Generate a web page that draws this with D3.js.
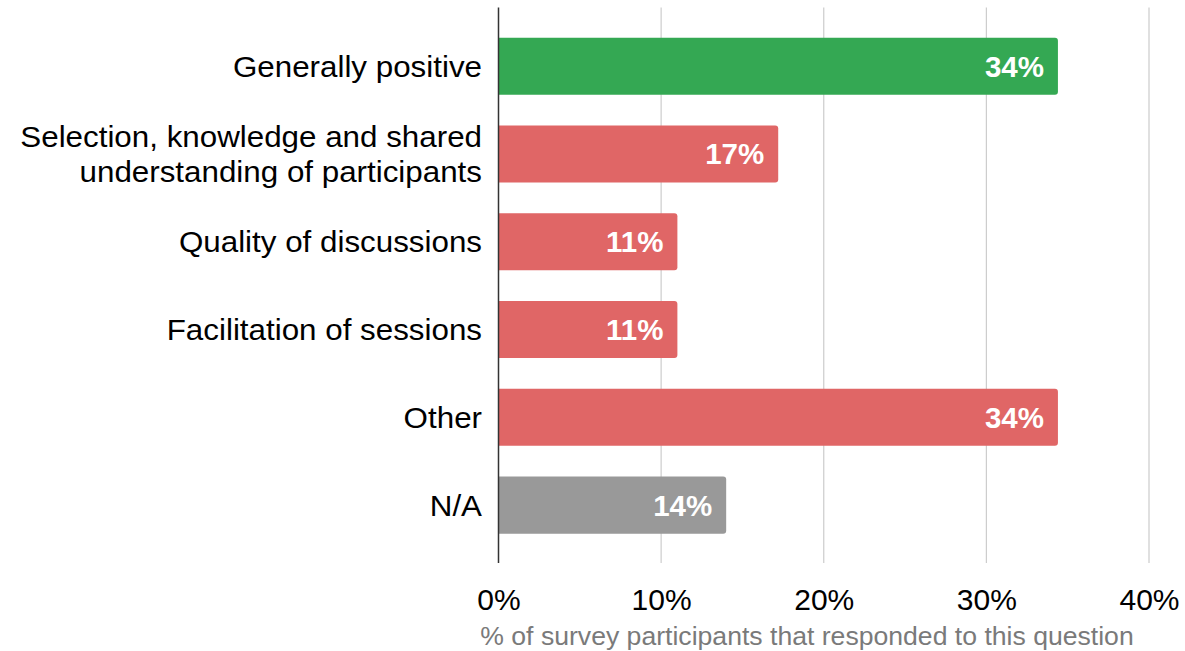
<!DOCTYPE html>
<html>
<head>
<meta charset="utf-8">
<script src="https://cdn.jsdelivr.net/npm/d3@7"></script>
<style>
  body { margin: 0; background: #fff; }
  svg text { font-family: Arial, "Liberation Sans", sans-serif; }
</style>
</head>
<body>
<div id="graph"></div>
<script>
// data
var categories = [
  ["Generally positive"],
  ["Selection, knowledge and shared", "understanding of participants"],
  ["Quality of discussions"],
  ["Facilitation of sessions"],
  ["Other"],
  ["N/A"]
];
var values = [34.4, 17.2, 11.0, 11.0, 34.4, 14.0];
var barLabels = ["34%", "17%", "11%", "11%", "34%", "14%"];
var barColors = ["#34a853", "#e06666", "#e06666", "#e06666", "#e06666", "#999999"];
var tickValues = [0, 10, 20, 30, 40];
var axisTitle = "% of survey participants that responded to this question";

var width = 1185, height = 651;
var svg = d3.select("#graph")
            .append("svg")
            .attr("width", width).attr("height", height);

var xScale = d3.scaleLinear().domain([0, 40]).range([498.5, 1149]);
var yScale = d3.scaleBand().domain(d3.range(categories.length))
               .range([22.3, 549]).paddingInner(0.35).paddingOuter(0.175);

var plotTop = 7.5, plotBottom = 563;

// gridlines
svg.append("g")
   .selectAll("line")
   .data(tickValues.slice(1))
   .enter()
   .append("line")
   .attr("x1", function(d) { return xScale(d); })
   .attr("x2", function(d) { return xScale(d); })
   .attr("y1", plotTop).attr("y2", plotBottom)
   .attr("stroke", "#cccccc").attr("stroke-width", 1.2);

// bars, rounded on the right end only
function barPath(x0, x1, y, h, r) {
  return "M" + x0 + "," + y +
         "H" + (x1 - r) +
         "Q" + x1 + "," + y + " " + x1 + "," + (y + r) +
         "V" + (y + h - r) +
         "Q" + x1 + "," + (y + h) + " " + (x1 - r) + "," + (y + h) +
         "H" + x0 + "Z";
}

svg.append("g")
   .selectAll("path")
   .data(values)
   .enter()
   .append("path")
   .attr("d", function(d, i) { return barPath(xScale(0), xScale(d), yScale(i), yScale.bandwidth(), 3); })
   .attr("fill", function(d, i) { return barColors[i]; });

// value labels inside bars
svg.append("g")
   .selectAll("text")
   .data(values)
   .enter()
   .append("text")
   .attr("x", function(d) { return xScale(d) - 14; })
   .attr("y", function(d, i) { return yScale(i) + yScale.bandwidth() / 2 + 10.5; })
   .attr("text-anchor", "end")
   .attr("font-size", "29.5px")
   .attr("font-weight", "bold")
   .attr("fill", "#ffffff")
   .text(function(d, i) { return barLabels[i]; });

// category labels (slightly wide face in the original)
var catG = svg.append("g");
categories.forEach(function(lines, i) {
  var cy = yScale(i) + yScale.bandwidth() / 2;
  var lh = 34.5;
  lines.forEach(function(line, j) {
    catG.append("text")
     .attr("transform", "translate(482," + (cy + 10.5 + (j - (lines.length - 1) / 2) * lh) + ") scale(1.045,1)")
     .attr("text-anchor", "end")
     .attr("font-size", "30px")
     .attr("fill", "#000")
     .text(line);
  });
});

// y axis line
svg.append("line")
   .attr("x1", xScale(0)).attr("x2", xScale(0))
   .attr("y1", plotTop).attr("y2", plotBottom)
   .attr("stroke", "#333333").attr("stroke-width", 1.5);

// x axis tick labels
var xAxis = d3.axisBottom(xScale).tickValues(tickValues)
              .tickFormat(function(d) { return d + "%"; })
              .tickSize(0).tickPadding(0);

var gx = svg.append("g")
    .attr("transform", "translate(0,610)")
    .call(xAxis);
gx.select(".domain").remove();
gx.selectAll("text")
  .attr("dy", null)
  .attr("y", 0)
  .attr("font-size", "30px")
  .attr("font-family", "Arial, 'Liberation Sans', sans-serif")
  .attr("fill", "#000");

// axis title
svg.append("text")
   .attr("x", 807)
   .attr("y", 645)
   .attr("text-anchor", "middle")
   .attr("font-size", "26.6px")
   .attr("fill", "#7a7a7a")
   .text(axisTitle);
</script>
</body>
</html>
